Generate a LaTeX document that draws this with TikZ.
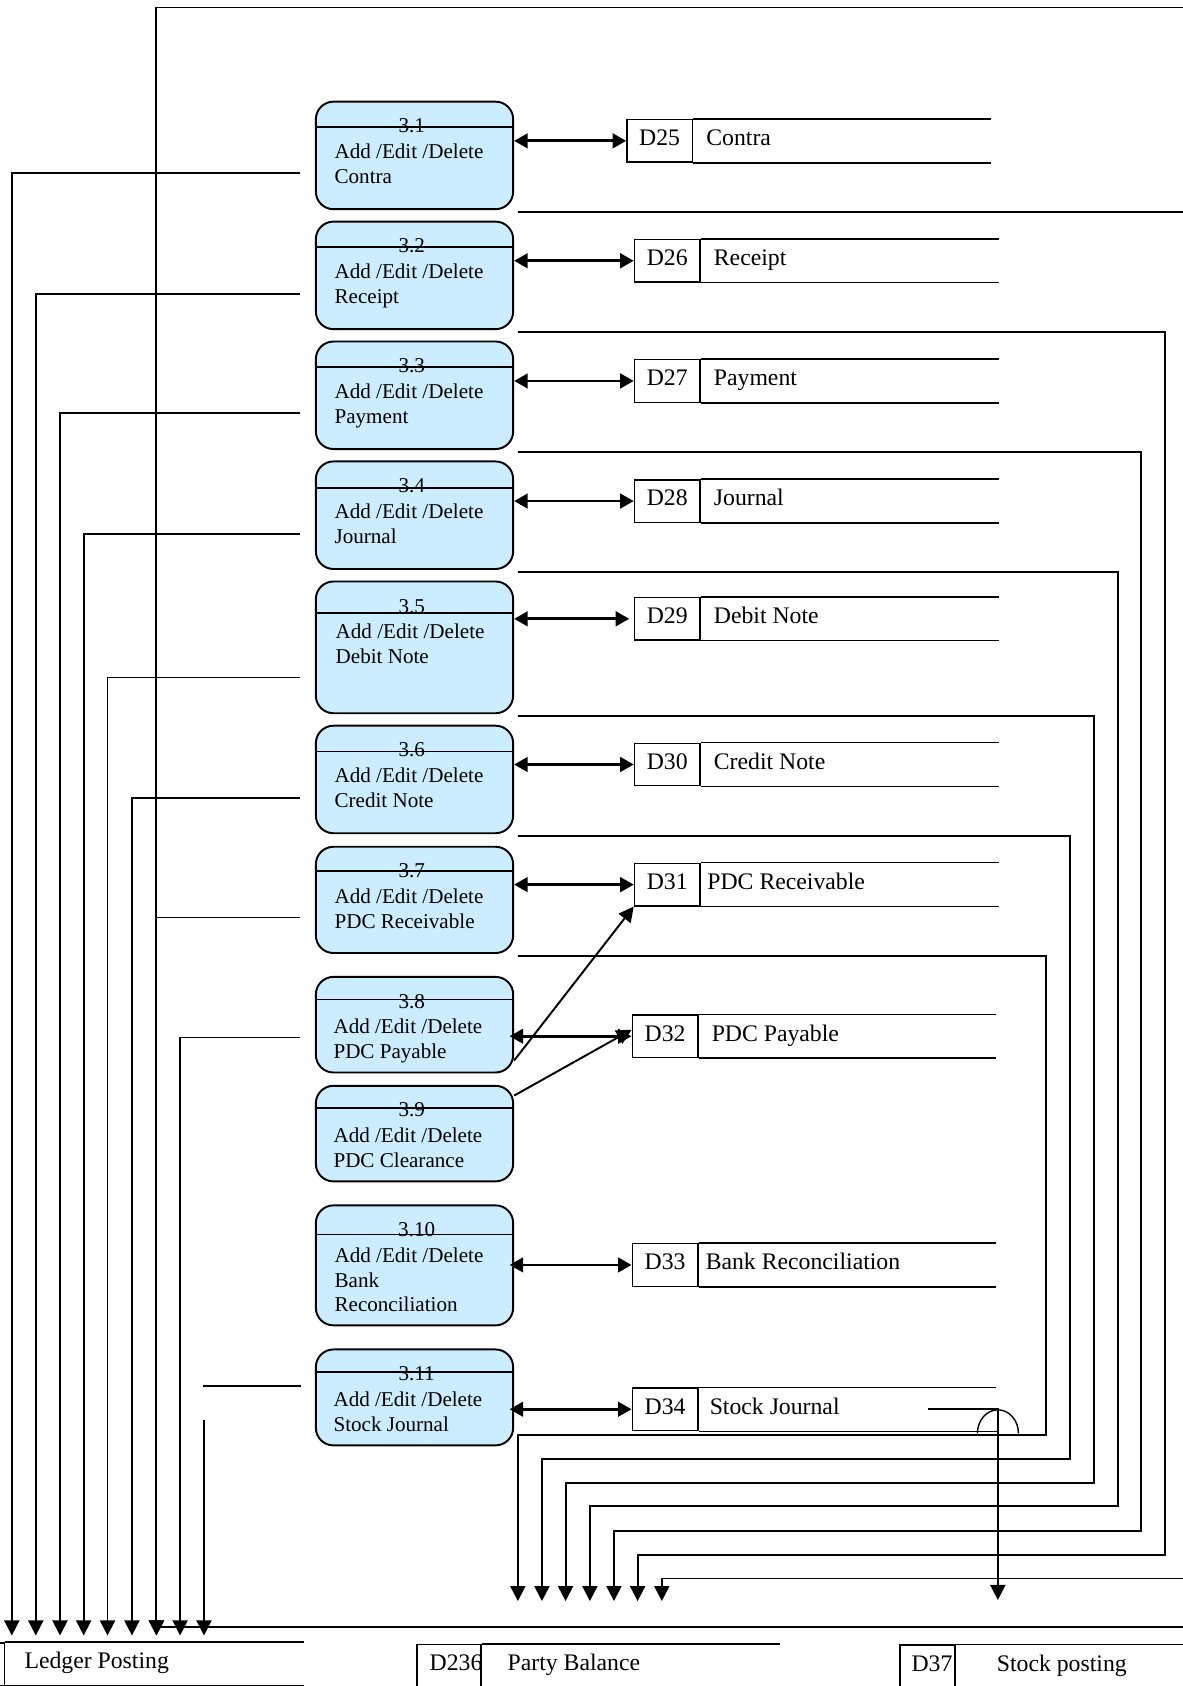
\documentclass[tikz,border=0pt]{standalone}
\usepackage{fontspec}
\setmainfont{Liberation Serif}
\usetikzlibrary{positioning,arrows.meta}
\definecolor{procblue}{RGB}{204,236,255}

\begin{document}
\begin{tikzpicture}[x=0.0215cm, y=-0.0215cm,
    proc node/.style={draw, line width=1.1pt, rounded corners=10pt, fill=procblue, minimum width=3.945cm, minimum height=2.15cm, inner sep=0pt},
    num node/.style={inner sep=0pt},
    desc node/.style={align=left, anchor=north west, inner sep=0pt},
    id node/.style={draw, line width=0.8pt, minimum width=1.31cm, minimum height=0.85cm, inner sep=0pt, font=\fontsize{13.5}{16}\selectfont, text height=9pt, text depth=3.5pt},
    store node/.style={inner xsep=0.258cm, inner ysep=0pt, font=\fontsize{13.5}{16}\selectfont, text height=9pt, text depth=3.5pt},
    store line/.style={line width=0.8pt},
    divider/.style={line width=0.85pt},
    wire/.style={line width=1.1pt},
    flow/.style={line width=1.1pt, -{Triangle[length=0.3cm, width=0.3cm]}},
    both/.style={line width=1.6pt, {Triangle[length=0.27cm, width=0.29cm]}-{Triangle[length=0.27cm, width=0.29cm]}}]
  \tikzstyle{every node}=[font=\fontsize{12}{14.1}\selectfont]

  \useasboundingbox (0,0) rectangle (1100,1568);
  \clip (0,0) rectangle (1100,1568);

  \node[proc node] (p31) at (385.5,144.55) {};
  \node[proc node] (p32) at (385.5,256.1) {};
  \node[proc node] (p33) at (385.5,367.6) {};
  \node[proc node] (p34) at (385.5,479.15) {};
  \node[proc node, minimum height=2.634cm] (p35) at (385.5,602.05) {};
  \node[proc node] (p36) at (385.5,724.9) {};
  \node[proc node, minimum height=2.124cm] (p37) at (385.5,836.9) {};
  \node[proc node, minimum height=1.911cm] (p38) at (385.5,952.95) {};
  \node[proc node, minimum height=1.911cm] (p39) at (385.5,1054.25) {};
  \node[proc node, minimum height=2.399cm] (p310) at (385.5,1176.8) {};
  \node[proc node, minimum height=1.918cm] (p311) at (385.5,1299.6) {};

  \draw[divider] ([shift={(0,24.5)}]p31.north west) -- ([shift={(0,24.5)}]p31.north east);
  \draw[divider] ([shift={(0,24.5)}]p32.north west) -- ([shift={(0,24.5)}]p32.north east);
  \draw[divider] ([shift={(0,24.5)}]p33.north west) -- ([shift={(0,24.5)}]p33.north east);
  \draw[divider] ([shift={(0,25.4)}]p34.north west) -- ([shift={(0,25.4)}]p34.north east);
  \draw[divider] ([shift={(0,30)}]p35.north west) -- ([shift={(0,30)}]p35.north east);
  \draw[divider] ([shift={(0,24.8)}]p36.north west) -- ([shift={(0,24.8)}]p36.north east);
  \draw[divider] ([shift={(0,23.5)}]p37.north west) -- ([shift={(0,23.5)}]p37.north east);
  \draw[divider] ([shift={(0,22)}]p38.north west) -- ([shift={(0,22)}]p38.north east);
  \draw[divider] ([shift={(0,21.4)}]p39.north west) -- ([shift={(0,21.4)}]p39.north east);
  \draw[divider] ([shift={(0,28)}]p310.north west) -- ([shift={(0,28)}]p310.north east);
  \draw[divider] ([shift={(0,22)}]p311.north west) -- ([shift={(0,22)}]p311.north east);

  \node[num node] at ([shift={(-2.5,23.5)}]p31.north) {3.1};
  \node[num node] at ([shift={(-2.5,23.5)}]p32.north) {3.2};
  \node[num node] at ([shift={(-2.5,23.5)}]p33.north) {3.3};
  \node[num node] at ([shift={(-2.5,23.5)}]p34.north) {3.4};
  \node[num node] at ([shift={(-2.5,24.5)}]p35.north) {3.5};
  \node[num node] at ([shift={(-2.5,23.5)}]p36.north) {3.6};
  \node[num node] at ([shift={(-2.5,23.5)}]p37.north) {3.7};
  \node[num node] at ([shift={(-2.5,23.5)}]p38.north) {3.8};
  \node[num node] at ([shift={(-2.5,23.5)}]p39.north) {3.9};
  \node[num node] at ([shift={(2,23.5)}]p310.north) {3.10};
  \node[num node] at ([shift={(2,23.5)}]p311.north) {3.11};

  \node[desc node] at ([shift={(18,40)}]p31.north west) {Add /Edit /Delete\\Contra};
  \node[desc node] at ([shift={(18,40)}]p32.north west) {Add /Edit /Delete\\Receipt};
  \node[desc node] at ([shift={(18,40)}]p33.north west) {Add /Edit /Delete\\Payment};
  \node[desc node] at ([shift={(18,40)}]p34.north west) {Add /Edit /Delete\\Journal};
  \node[desc node] at ([shift={(19,40)}]p35.north west) {Add /Edit /Delete\\Debit Note};
  \node[desc node] at ([shift={(18,40)}]p36.north west) {Add /Edit /Delete\\Credit Note};
  \node[desc node] at ([shift={(18,40)}]p37.north west) {Add /Edit /Delete\\PDC Receivable};
  \node[desc node] at ([shift={(17,40)}]p38.north west) {Add /Edit /Delete\\PDC Payable};
  \node[desc node] at ([shift={(17,40)}]p39.north west) {Add /Edit /Delete\\PDC Clearance};
  \node[desc node] at ([shift={(18,40)}]p310.north west) {Add /Edit /Delete\\Bank\\Reconciliation};
  \node[desc node] at ([shift={(17,40)}]p311.north west) {Add /Edit /Delete\\Stock Journal};

  \node[id node] (d25) at (613.5,131) {D25};
  \node[store node, right=0pt of d25] {Contra};
  \node[id node] (d26) at (620.5,242.5) {D26};
  \node[store node, right=0pt of d26] {Receipt};
  \node[id node] (d27) at (620.5,354.3) {D27};
  \node[store node, right=0pt of d27] {Payment};
  \node[id node] (d28) at (620.5,466) {D28};
  \node[store node, right=0pt of d28] {Journal};
  \node[id node] (d29) at (620.5,575.5) {D29};
  \node[store node, right=0pt of d29] {Debit Note};
  \node[id node] (d30) at (620.5,711) {D30};
  \node[store node, right=0pt of d30] {Credit Note};
  \node[id node] (d31) at (620.5,822.7) {D31};
  \node[store node, right=-0.13cm of d31] {PDC Receivable};
  \node[id node] (d32) at (618.5,963.7) {D32};
  \node[store node, right=0pt of d32] {PDC Payable};
  \node[id node] (d33) at (618.5,1176.4) {D33};
  \node[store node, right=-0.12cm of d33] {Bank Reconciliation};
  \node[id node] (d34) at (618.5,1310.6) {D34};
  \node[store node, right=-0.04cm of d34] {Stock Journal};

  \draw[store line] (d25.north east) -- ++(277,0) (d25.south east) -- ++(277,0);
  \draw[store line] (d26.north east) -- ++(277,0) (d26.south east) -- ++(277,0);
  \draw[store line] (d27.north east) -- ++(277,0) (d27.south east) -- ++(277,0);
  \draw[store line] (d28.north east) -- ++(277,0) (d28.south east) -- ++(277,0);
  \draw[store line] (d29.north east) -- ++(277,0) (d29.south east) -- ++(277,0);
  \draw[store line] (d30.north east) -- ++(277,0) (d30.south east) -- ++(277,0);
  \draw[store line] (d31.north east) -- ++(277,0) (d31.south east) -- ++(277,0);
  \draw[store line] (d32.north east) -- ++(277,0) (d32.south east) -- ++(277,0);
  \draw[store line] (d33.north east) -- ++(277,0) (d33.south east) -- ++(277,0);
  \draw[store line] (d34.north east) -- ++(277,0) (d34.south east) -- ++(279,0);

  \node[id node] (lp) at (-26.2,1547.6) {};
  \node[store node, right=0.12cm of lp] {Ledger Posting};
  \draw[store line] (lp.north east) -- ++(277.7,0) (lp.south east) -- ++(277.7,0);
  \node[id node, minimum width=1.28cm] (pb) at (417.75,1549.3) {};
  \node[store node, anchor=west] at (pb.west) {D236};
  \node[store node, right=0.25cm of pb] {Party Balance};
  \draw[store line] (pb.north east) -- ++(277.5,0) (pb.south east) -- ++(277.5,0);
  \node[id node, minimum width=1.1cm] (sp) at (862.5,1549.8) {};
  \node[store node, anchor=west, inner xsep=0.24cm] at (sp.west) {D37};
  \node[store node, right=0.56cm of sp] {Stock posting};
  \draw[store line] (sp.north east) -- ++(277,0) (sp.south east) -- ++(277,0);

  \draw[both] (p31.east |- d25) -- (d25.west);
  \draw[both] (p32.east |- d26) -- (d26.west);
  \draw[both] (p33.east |- d27) -- (d27.west);
  \draw[both] (p34.east |- d28) -- (d28.west);
  \draw[both] (p35.east |- d29) -- ([xshift=-0.09cm]d29.west);
  \draw[both] (p36.east |- d30) -- (d30.west);
  \draw[both] (p37.east |- d31) -- (d31.west);
  \draw[both] ([xshift=-0.09cm]p38.east |- d32) -- (d32.west);
  \draw[both] ([xshift=-0.09cm]p310.east |- d33) -- (d33.west);
  \draw[both] ([xshift=-0.09cm]p311.east |- d34) -- (d34.west);

  \draw[flow] (p38.south east) ++(0,-12) -- (d31.south west);
  \draw[flow] (p39.north east) ++(0,10) -- ([shift={(0,-6)}]d32.west);

  \coordinate (lp1) at (11,1521);
  \coordinate (lp2) at (33.3,1521);
  \coordinate (lp3) at (55.8,1521);
  \coordinate (lp4) at (77.8,1521);
  \coordinate (lp5) at (100,1521);
  \coordinate (lp6) at (122.7,1521);
  \coordinate (lp7) at (145.5,1521);
  \coordinate (lp8) at (167.5,1521);
  \coordinate (lp9) at (189.7,1521);

  \coordinate (pb1) at (481.6,1489);
  \coordinate (pb2) at (504,1489);
  \coordinate (pb3) at (526,1489);
  \coordinate (pb4) at (548.6,1489);
  \coordinate (pb5) at (571,1489);
  \coordinate (pb6) at (593,1489);
  \coordinate (pb7) at (615.5,1489);
  \coordinate (sp1) at (928,1488);

  \coordinate (tr) at (1112,7);
  \coordinate (br) at (1112,1513.4);

  \draw[flow] (p31.west) ++(-14,16.7) -| (lp1);
  \draw[flow] (p32.west) ++(-14,17.3) -| (lp2);
  \draw[flow] (p33.west) ++(-14,16.4) -| (lp3);
  \draw[flow] (p34.west) ++(-14,17.3) -| (lp4);
  \draw[flow] (p35.west) ++(-14,28) -| (lp5);
  \draw[flow] (p36.west) ++(-14,17.4) -| (lp6);
  \draw[flow] (p37.west) ++(-14,16.4) -| (lp7);
  \draw[flow] (p38.west) ++(-14,11.9) -| (lp8);
  \draw[wire] (p311.west) ++(-13,-10.6) -- ++(-91,0);
  \draw[flow] (lp9) ++(0,-200) -- (lp9);
  \draw[flow] (tr) -| (lp7);
  \draw[wire] (br) -- (br -| lp7);

  \draw[flow] (p31.south east) ++(3.7,1.3) -| (1112,1468) -| (pb7);
  \draw[flow] (p32.south east) ++(3.7,1.6) -| (1083.5,1446) -| (pb6);
  \draw[flow] (p33.south east) ++(3.7,1.5) -| (1061.5,1423.5) -| (pb5);
  \draw[flow] (p34.south east) ++(3.7,1.9) -| (1039.5,1401) -| (pb4);
  \draw[flow] (p35.south east) ++(3.7,1.5) -| (1017,1379) -| (pb3);
  \draw[flow] (p36.south east) ++(3.7,1.6) -| (995,1356.6) -| (pb2);
  \draw[flow] (p37.south east) ++(3.7,1.7) -| (972.6,1334.5) -| (pb1);

  \draw[flow] (d34) ++(244.5,0) -| (sp1);
  \draw[store line] (sp1) ++(-19,-155) arc[start angle=180, end angle=0, x radius=0.41cm, y radius=0.47cm];
\end{tikzpicture}
\end{document}
